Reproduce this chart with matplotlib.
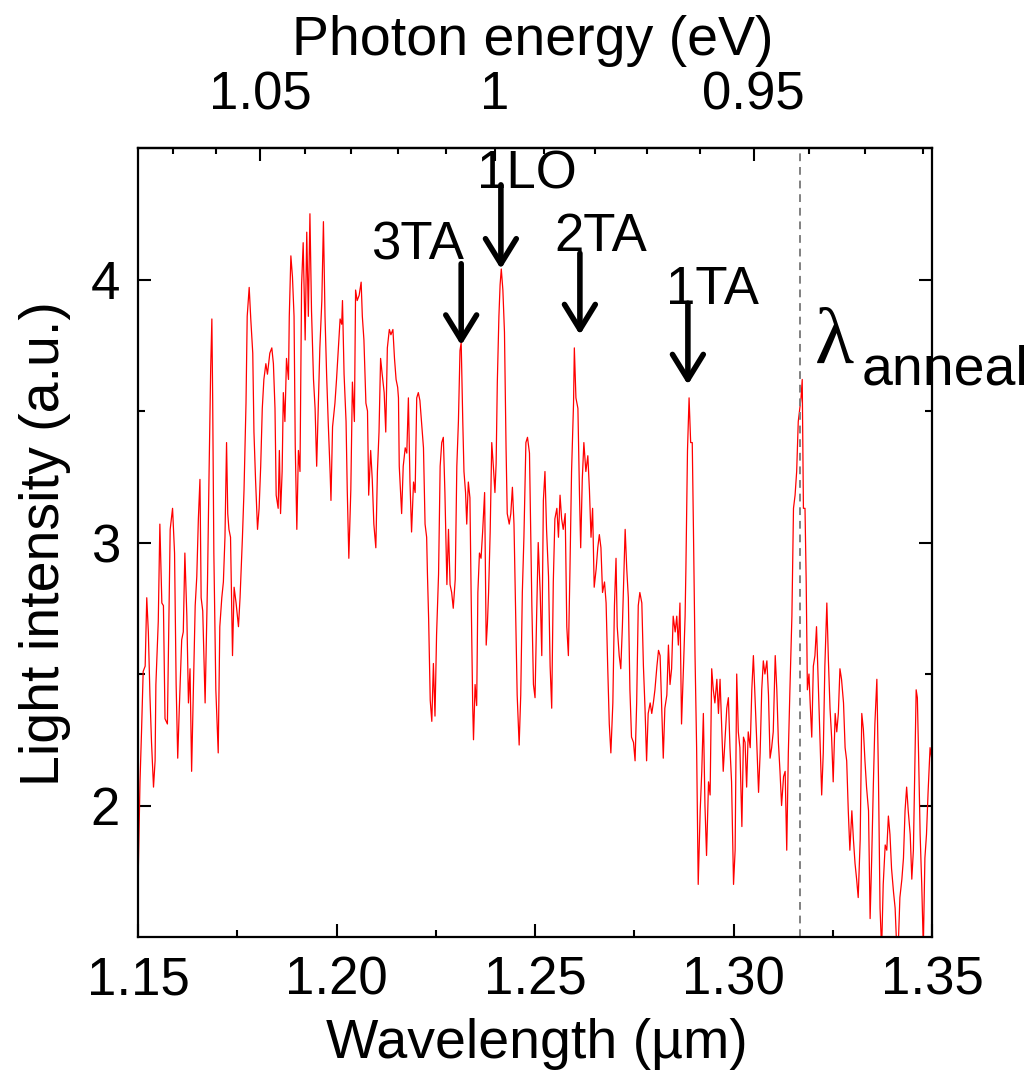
import matplotlib
matplotlib.use("Agg")
import matplotlib.pyplot as plt
from matplotlib.ticker import FixedLocator, MultipleLocator

plt.rcParams['font.family'] = ['Liberation Sans', 'DejaVu Sans']

# Measured emission spectrum: wavelength (um) and light intensity (a.u.)
wavelength_um = [
    1.1500, 1.1502, 1.1505, 1.1509, 1.1513, 1.1518, 1.1522, 1.1526, 1.1530, 1.1534,
    1.1539, 1.1543, 1.1545, 1.1551, 1.1555, 1.1560, 1.1564, 1.1568, 1.1574, 1.1576,
    1.1581, 1.1587, 1.1592, 1.1596, 1.1600, 1.1604, 1.1610, 1.1614, 1.1618, 1.1623,
    1.1627, 1.1631, 1.1635, 1.1639, 1.1644, 1.1648, 1.1652, 1.1656, 1.1659, 1.1663,
    1.1669, 1.1675, 1.1679, 1.1683, 1.1686, 1.1688, 1.1691, 1.1696, 1.1702, 1.1706,
    1.1711, 1.1715, 1.1719, 1.1723, 1.1726, 1.1729, 1.1733, 1.1738, 1.1742, 1.1747,
    1.1753, 1.1757, 1.1763, 1.1767, 1.1772, 1.1775, 1.1780, 1.1784, 1.1789, 1.1792,
    1.1796, 1.1801, 1.1805, 1.1809, 1.1813, 1.1817, 1.1822, 1.1826,
    1.1832, 1.1837, 1.1841, 1.1845, 1.1848, 1.1853, 1.1856, 1.1859, 1.1863, 1.1866,
    1.1870, 1.1874, 1.1879, 1.1881, 1.1885, 1.1889, 1.1893, 1.1896, 1.1900, 1.1904,
    1.1908, 1.1912, 1.1916, 1.1921, 1.1925, 1.1929, 1.1933, 1.1937, 1.1942, 1.1946,
    1.1950, 1.1954, 1.1958, 1.1963, 1.1967, 1.1971, 1.1975, 1.1979, 1.1984, 1.1986,
    1.1990, 1.1996, 1.2000, 1.2005, 1.2009, 1.2013, 1.2015, 1.2019, 1.2024, 1.2027,
    1.2031, 1.2036, 1.2040, 1.2045, 1.2048, 1.2052, 1.2057, 1.2062, 1.2065, 1.2069,
    1.2074, 1.2078, 1.2081, 1.2086, 1.2090, 1.2094, 1.2099, 1.2103, 1.2107, 1.2111,
    1.2115, 1.2120, 1.2124, 1.2128, 1.2133, 1.2137, 1.2142, 1.2146, 1.2150, 1.2154,
    1.2156, 1.2158, 1.2164, 1.2168, 1.2173, 1.2177, 1.2181, 1.2185, 1.2189, 1.2194,
    1.2198, 1.2202, 1.2206, 1.2210, 1.2215, 1.2219, 1.2223, 1.2227, 1.2229, 1.2232,
    1.2236, 1.2240, 1.2244, 1.2248, 1.2252, 1.2257, 1.2261, 1.2265, 1.2269, 1.2273,
    1.2278, 1.2282, 1.2286, 1.2290, 1.2294, 1.2299, 1.2303, 1.2307, 1.2311, 1.2314,
    1.2318, 1.2321, 1.2325, 1.2328, 1.2332, 1.2336, 1.2339, 1.2343, 1.2345, 1.2349,
    1.2353, 1.2356, 1.2360, 1.2364, 1.2368, 1.2373, 1.2377, 1.2380, 1.2383, 1.2387,
    1.2391, 1.2395, 1.2399, 1.2402, 1.2405, 1.2409, 1.2412, 1.2415, 1.2419, 1.2423,
    1.2427, 1.2430, 1.2435, 1.2439, 1.2443, 1.2447, 1.2451, 1.2455, 1.2460, 1.2464,
    1.2468, 1.2472, 1.2477, 1.2481, 1.2486,
    1.2492, 1.2496, 1.2500, 1.2504, 1.2508, 1.2513, 1.2517, 1.2521, 1.2525, 1.2529,
    1.2534, 1.2538, 1.2542, 1.2546, 1.2550, 1.2555, 1.2559, 1.2563, 1.2567, 1.2571,
    1.2576, 1.2580, 1.2584, 1.2588, 1.2592, 1.2597, 1.2599, 1.2603, 1.2608, 1.2612,
    1.2615, 1.2619, 1.2623, 1.2628, 1.2633, 1.2637, 1.2641, 1.2645, 1.2649, 1.2654,
    1.2658, 1.2662, 1.2666, 1.2670, 1.2675, 1.2679, 1.2683, 1.2687, 1.2691, 1.2696,
    1.2700, 1.2704, 1.2707, 1.2712, 1.2716, 1.2720, 1.2724, 1.2727, 1.2731, 1.2735,
    1.2739, 1.2743, 1.2748, 1.2752, 1.2756, 1.2760, 1.2764, 1.2769, 1.2773, 1.2777,
    1.2781, 1.2785, 1.2790, 1.2794, 1.2798, 1.2802, 1.2807, 1.2811, 1.2815,
    1.2819, 1.2823, 1.2827, 1.2832, 1.2836, 1.2840, 1.2844, 1.2848, 1.2853, 1.2857,
    1.2861, 1.2865, 1.2869, 1.2874, 1.2878, 1.2880, 1.2884, 1.2888, 1.2892, 1.2896,
    1.2899, 1.2903, 1.2907, 1.2911, 1.2916, 1.2920, 1.2924, 1.2928, 1.2932, 1.2937,
    1.2941, 1.2945, 1.2949, 1.2953, 1.2958, 1.2962, 1.2966, 1.2970, 1.2974, 1.2979,
    1.2983, 1.2987, 1.2991, 1.2995, 1.3000, 1.3004, 1.3008, 1.3012, 1.3016, 1.3021,
    1.3025, 1.3029, 1.3033, 1.3037, 1.3042, 1.3046, 1.3050, 1.3054, 1.3058, 1.3063,
    1.3067, 1.3071, 1.3075, 1.3079, 1.3084, 1.3088, 1.3092, 1.3096, 1.3100, 1.3105,
    1.3109, 1.3113, 1.3117,
    1.3121, 1.3126, 1.3130, 1.3134, 1.3138, 1.3142, 1.3147, 1.3151, 1.3155, 1.3159,
    1.3163, 1.3166, 1.3167, 1.3170, 1.3173, 1.3176, 1.3180, 1.3183, 1.3186, 1.3190,
    1.3193, 1.3197, 1.3201, 1.3205, 1.3209, 1.3214, 1.3218, 1.3222, 1.3226, 1.3230,
    1.3235, 1.3239, 1.3243, 1.3247, 1.3251, 1.3256, 1.3260, 1.3264, 1.3268, 1.3272,
    1.3277, 1.3281, 1.3285, 1.3289, 1.3293, 1.3298, 1.3302, 1.3306, 1.3310, 1.3314,
    1.3319, 1.3323, 1.3327, 1.3331, 1.3335, 1.3340, 1.3344, 1.3348, 1.3352, 1.3356,
    1.3361, 1.3365, 1.3369, 1.3373, 1.3377, 1.3382, 1.3386, 1.3390, 1.3394, 1.3398,
    1.3403, 1.3407, 1.3411, 1.3415, 1.3419, 1.3424, 1.3428, 1.3432, 1.3436, 1.3440,
    1.3445, 1.3449, 1.3453, 1.3457, 1.3460, 1.3463, 1.3466, 1.3470, 1.3474, 1.3478,
    1.3482, 1.3486, 1.3490, 1.3495, 1.3500,
]

intensity = [
    1.70, 1.85, 2.09, 2.29, 2.51, 2.53, 2.79, 2.66, 2.42, 2.24,
    2.07, 2.17, 2.46, 2.70, 3.07, 2.77, 2.76, 2.33, 2.31, 2.53,
    3.05, 3.13, 2.96, 2.46, 2.18, 2.37, 2.63, 2.66, 2.96, 2.72,
    2.39, 2.52, 2.13, 2.41, 2.76, 2.87, 3.09, 3.24, 2.79, 2.74,
    2.39, 2.85, 3.27, 3.66, 3.85, 3.55, 2.96, 2.44, 2.20, 2.68,
    2.79, 2.85, 3.02, 3.38, 3.11, 3.05, 3.02, 2.57, 2.83, 2.77,
    2.68, 2.79, 3.02, 3.20, 3.53, 3.86, 3.97, 3.85, 3.72, 3.42,
    3.24, 3.05, 3.13, 3.29, 3.51, 3.62, 3.68, 3.64,
    3.72, 3.74, 3.68, 3.51, 3.18, 3.13, 3.35, 3.11, 3.27, 3.57,
    3.46, 3.70, 3.62, 3.86, 4.09, 4.01, 3.86, 3.37, 3.05, 3.35,
    3.27, 3.98, 4.14, 3.77, 4.18, 3.86, 4.25, 3.88, 3.62, 3.51,
    3.29, 3.51, 3.74, 3.92, 4.22, 3.86, 3.64, 3.46, 3.26, 3.16,
    3.44, 3.53, 3.62, 3.75, 3.85, 3.83, 3.92, 3.64, 3.46, 3.20,
    2.94, 3.20, 3.61, 3.46, 3.96, 3.92, 3.94, 3.99, 3.86, 3.77,
    3.53, 3.50, 3.18, 3.35, 3.24, 3.07, 2.98, 3.27, 3.42, 3.70,
    3.64, 3.57, 3.42, 3.74, 3.81, 3.79, 3.81, 3.70, 3.62, 3.59,
    3.55, 3.29, 3.11, 3.29, 3.36, 3.34, 3.55, 3.23, 3.04, 3.23,
    3.19, 3.55, 3.57, 3.54, 3.44, 3.36, 3.07, 3.02, 2.88, 2.71,
    2.40, 2.32, 2.54, 2.34, 2.65, 2.88, 3.29, 3.38, 3.40, 3.19,
    2.84, 3.05, 2.84, 2.81, 2.75, 2.86, 3.29, 3.46, 3.73, 3.76,
    3.46, 3.27, 3.19, 3.07, 3.23, 3.17, 2.81, 2.38, 2.25, 2.46,
    2.38, 2.81, 2.96, 2.94, 3.04, 3.19, 2.61, 2.69, 2.81, 3.04,
    3.38, 3.29, 3.19, 3.30, 3.61, 3.86, 3.98, 4.04, 3.96, 3.80,
    3.36, 3.11, 3.07, 3.11, 3.21, 3.07, 2.75, 2.42, 2.23, 2.42,
    2.81, 3.02, 3.38, 3.40, 3.34,
    2.76, 2.46, 2.41, 2.72, 3.00, 2.81, 2.57, 3.16, 3.27, 3.05,
    2.87, 2.53, 2.37, 2.85, 3.09, 3.13, 3.02, 3.18, 3.09, 3.05,
    3.11, 2.68, 2.57, 2.90, 3.27, 3.53, 3.74, 3.55, 3.51, 3.18,
    2.98, 3.24, 3.38, 3.27, 3.33, 3.20, 3.02, 3.13, 2.83, 2.90,
    2.98, 3.03, 2.98, 2.81, 2.85, 2.77, 2.53, 2.31, 2.20, 2.39,
    2.76, 2.94, 2.68, 2.57, 2.52, 2.68, 2.90, 3.05, 2.90, 2.79,
    2.44, 2.26, 2.24, 2.17, 2.39, 2.76, 2.81, 2.77, 2.53, 2.37,
    2.17, 2.35, 2.39, 2.35, 2.39, 2.44, 2.53, 2.59, 2.57,
    2.37, 2.18, 2.37, 2.42, 2.61, 2.46, 2.52, 2.72, 2.66, 2.72,
    2.61, 2.77, 2.31, 2.53, 2.72, 2.90, 3.35, 3.55, 3.38, 3.38,
    3.05, 2.57, 2.22, 1.70, 1.98, 2.13, 2.35, 2.00, 1.81, 2.09,
    2.04, 2.52, 2.44, 2.39, 2.48, 2.35, 2.48, 2.31, 2.13, 2.26,
    2.37, 2.41, 2.22, 2.09, 1.70, 1.83, 2.50, 2.28, 2.22, 1.92,
    2.26, 2.24, 2.07, 2.28, 2.22, 2.44, 2.57, 2.42, 2.26, 2.05,
    2.20, 2.44, 2.55, 2.50, 2.55, 2.42, 2.18, 2.22, 2.28, 2.57,
    2.44, 2.24, 2.13,
    2.00, 2.11, 2.13, 1.83, 2.20, 2.44, 2.72, 3.13, 3.18, 3.27,
    3.46, 3.50, 3.51, 3.55, 3.62, 3.13, 3.13, 2.85, 2.44, 2.50,
    2.39, 2.26, 2.53, 2.57, 2.68, 2.44, 2.24, 2.04, 2.20, 2.53,
    2.77, 2.55, 2.37, 2.26, 2.09, 2.35, 2.28, 2.35, 2.52, 2.48,
    2.39, 2.22, 2.17, 1.98, 1.83, 1.98, 1.87, 1.78, 1.72, 1.65,
    1.87, 2.35, 2.29, 2.17, 2.07, 1.98, 1.57, 1.80, 2.07, 2.31,
    2.48, 2.11, 1.61, 1.45, 1.70, 1.85, 1.83, 1.96, 1.89, 1.76,
    1.67, 1.61, 1.46, 1.47, 1.65, 1.72, 1.80, 1.98, 2.07, 1.98,
    1.89, 1.72, 1.83, 2.17, 2.44, 2.41, 2.20, 1.89, 1.70, 1.46,
    1.80, 1.89, 2.05, 2.22, 2.17,
]

# Phonon-replica labels with their arrows
peak_labels = ["3TA", "1LO", "2TA", "1TA"]
peak_arrow_x = [1.2314, 1.2414, 1.2613, 1.2885]
peak_arrow_tip = [3.75, 4.04, 3.79, 3.60]
peak_arrow_tail = [4.06, 4.36, 4.10, 3.91]
peak_text_x = [1.2205, 1.2480, 1.2666, 1.2948]
peak_text_y = [4.13, 4.40, 4.16, 3.96]

anneal_wavelength = 1.3168

energy_ticks = [1.05, 1.00, 0.95]
energy_tick_labels = ["1.05", "1", "0.95"]
energy_minor = [1.07, 1.06, 1.04, 1.03, 1.02, 1.01, 0.99, 0.98, 0.97, 0.96, 0.94, 0.93, 0.92]
HC = 1.2398  # eV*um

fig = plt.figure(figsize=(10.30, 10.82), dpi=100)
ax = fig.add_axes([0.1340, 0.1340, 0.7709, 0.7292])

ax.plot(wavelength_um, intensity, color="red", lw=0.9)
ax.axvline(anneal_wavelength, color="#808080", lw=1.4, ls=(0, (4, 3)))

ax.set_xlim(1.15, 1.35)
ax.set_ylim(1.5, 4.5)

ax.xaxis.set_major_locator(FixedLocator([1.15, 1.20, 1.25, 1.30, 1.35]))
ax.xaxis.set_minor_locator(MultipleLocator(0.025))
ax.set_xticklabels(["1.15", "1.20", "1.25", "1.30", "1.35"])
ax.yaxis.set_major_locator(FixedLocator([2, 3, 4]))
ax.yaxis.set_minor_locator(FixedLocator([2.5, 3.5]))

for s in ax.spines.values():
    s.set_linewidth(1.6)
ax.tick_params(which="both", direction="in", width=1.5, top=False, right=True,
               labelsize=38, pad=13)
ax.tick_params(which="major", length=9.5)
ax.tick_params(which="minor", length=5)

sec = ax.secondary_xaxis("top", functions=(lambda w: HC / w, lambda e: HC / e))
sec.set_xticks(energy_ticks)
sec.set_xticklabels(energy_tick_labels)
sec.xaxis.set_minor_locator(FixedLocator(energy_minor))
sec.tick_params(which="both", direction="in", width=1.5, labelsize=38, pad=20)
sec.tick_params(which="major", length=9.5)
sec.tick_params(which="minor", length=4)
sec.spines["top"].set_linewidth(1.6)

fig.text(0.521, 0.035, "Wavelength (\u00b5m)", ha="center", va="center", fontsize=40)
fig.text(0.517, 0.962, "Photon energy (eV)", ha="center", va="center", fontsize=40)
fig.text(0.044, 0.498, "Light intensity (a.u.)", ha="center", va="center",
         rotation=90, fontsize=40)

for lab, xa, tip, tail, tx, ty in zip(peak_labels, peak_arrow_x, peak_arrow_tip,
                                      peak_arrow_tail, peak_text_x, peak_text_y):
    ax.annotate("", xy=(xa, tip), xytext=(xa, tail),
                arrowprops=dict(arrowstyle="->,head_length=0.6,head_width=0.37",
                                lw=4, color="black", mutation_scale=30,
                                shrinkA=0, shrinkB=0))
    ax.text(tx, ty, lab, ha="center", va="center", fontsize=38)

ax.text(1.3205, 3.68, "\u03bb", ha="left", va="baseline", fontsize=58,
        family=["Liberation Serif", "DejaVu Serif"], clip_on=False)
ax.text(1.3322, 3.60, "anneal", ha="left", va="baseline", fontsize=40, clip_on=False)

fig.savefig("out.png", dpi=100)
